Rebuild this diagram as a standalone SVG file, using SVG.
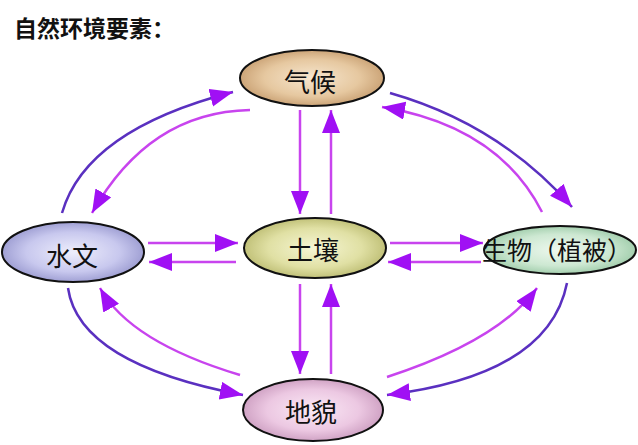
<svg xmlns="http://www.w3.org/2000/svg" width="638" height="445" viewBox="0 0 638 445">
<style>
.node{stroke:#111;stroke-width:2}
.lbl{font-family:"Noto Sans CJK SC","Noto Sans CJK JP",sans-serif;font-size:26px;fill:#111;text-anchor:middle;dominant-baseline:central}
.title{font-family:"Noto Sans CJK SC",sans-serif;font-size:23px;font-weight:bold;fill:#111}
.a{fill:none;stroke-width:2.5;marker-end:url(#ah)}
.m{stroke:#c844ee}
.b{stroke:#5a30c0}
</style>
<defs>
<marker id="ah" markerUnits="userSpaceOnUse" markerWidth="26" markerHeight="20" refX="23" refY="9" orient="auto" viewBox="0 0 26 20">
<path d="M0,0 L23,9 L0,18 Z" fill="#a010f4"/>
</marker>
<radialGradient id="g1" cx="50%" cy="50%" r="55%"><stop offset="0" stop-color="#f6e6cf"/><stop offset="0.6" stop-color="#e6c8a0"/><stop offset="1" stop-color="#c49a6c"/></radialGradient>
<radialGradient id="g2" cx="50%" cy="50%" r="55%"><stop offset="0" stop-color="#eeeefc"/><stop offset="0.6" stop-color="#c8c8ee"/><stop offset="1" stop-color="#9494cc"/></radialGradient>
<radialGradient id="g3" cx="50%" cy="50%" r="55%"><stop offset="0" stop-color="#eef8ee"/><stop offset="0.6" stop-color="#cde8d2"/><stop offset="1" stop-color="#98c8a4"/></radialGradient>
<radialGradient id="g4" cx="50%" cy="50%" r="55%"><stop offset="0" stop-color="#f6f6d4"/><stop offset="0.6" stop-color="#e0e0a4"/><stop offset="1" stop-color="#b8b86c"/></radialGradient>
<radialGradient id="g5" cx="50%" cy="50%" r="55%"><stop offset="0" stop-color="#fbeaf6"/><stop offset="0.6" stop-color="#ecc8e2"/><stop offset="1" stop-color="#c898bc"/></radialGradient>
</defs>
<text class="title" x="14" y="37">自然环境要素：</text>
<g id="connectors">
<path class="a b" d="M62,213 Q86,130 233,92"/>
<path class="a m" d="M250,110 Q149,112 92,213"/>
<path class="a b" d="M390,93 Q499,124 572,207"/>
<path class="a m" d="M542,212 Q498,126 382,107"/>
<path class="a b" d="M68,288 Q79,364 243,395"/>
<path class="a m" d="M240,375 Q130,342 100,288"/>
<path class="a m" d="M387,377 Q498,341 537,288"/>
<path class="a b" d="M567,283 Q549,375 387,395"/>
<path class="a m" d="M300,110 L300,214"/>
<path class="a m" d="M331,214 L331,110"/>
<path class="a m" d="M300,284 L300,374"/>
<path class="a m" d="M331,374 L331,284"/>
<path class="a m" d="M148,243 L238,243"/>
<path class="a m" d="M236,262 L149,262"/>
<path class="a m" d="M390,243 L483,243"/>
<path class="a m" d="M481,262 L388,262"/>
</g>
<g id="qihou"><ellipse class="node" cx="312" cy="78" rx="72" ry="28" fill="url(#g1)"/><text class="lbl" x="310" y="80">气候</text></g>
<g id="shuiwen"><ellipse class="node" cx="73" cy="252" rx="71" ry="30" fill="url(#g2)"/><text class="lbl" x="72" y="254">水文</text></g>
<g id="shengwu"><ellipse class="node" cx="560" cy="250" rx="76" ry="24" fill="url(#g3)"/><text class="lbl" x="557" y="249" style="font-size:25px">生物（植被）</text></g>
<g id="turang"><ellipse class="node" cx="315" cy="248" rx="71" ry="30" fill="url(#g4)"/><text class="lbl" x="313" y="248">土壤</text></g>
<g id="dimao"><ellipse class="node" cx="313" cy="410" rx="70" ry="31" fill="url(#g5)"/><text class="lbl" x="311" y="410">地貌</text></g>
</svg>
